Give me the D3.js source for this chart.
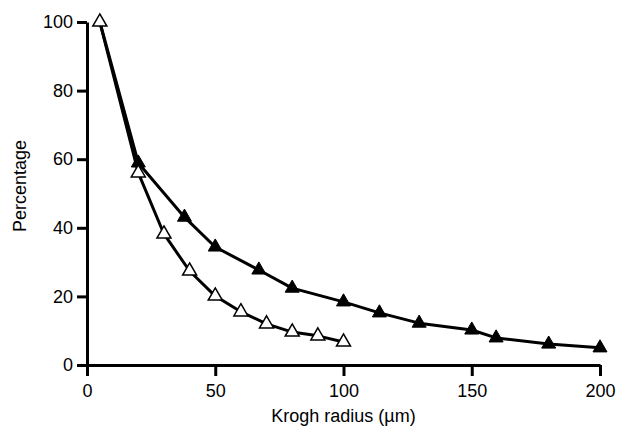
<!DOCTYPE html>
<html>
<head>
<meta charset="utf-8">
<script src="https://cdn.jsdelivr.net/npm/d3@7"></script>
<style>
  body { margin: 0; background: #fff; }
  text { font-family: "Liberation Sans", Arial, sans-serif; fill: #000; }
</style>
</head>
<body>
<div id="chart"></div>
<script>
// open triangles
const openX = [5, 20, 30, 40, 50, 60, 70, 80, 90, 100];
const openY = [100, 56, 38.2, 27.4, 20.1, 15.5, 12, 9.6, 8.5, 6.7];
// filled triangles
const filledX = [5, 20, 38, 50, 67, 80, 100, 114, 129.5, 150, 159.5, 180, 200];
const filledY = [100, 58.9, 43.1, 34.4, 27.7, 22.4, 18.4, 15.2, 12.2, 10.2, 7.9, 6.1, 5.0];

const xTicks = [0, 50, 100, 150, 200];
const yTicks = [0, 20, 40, 60, 80, 100];

const W = 627, H = 428;
const margin = { top: 22, right: 27, bottom: 63, left: 87 },
      width = W - margin.left - margin.right,
      height = H - margin.top - margin.bottom;

const svg = d3.select("#chart").append("svg")
    .attr("width", W)
    .attr("height", H);

const g = svg.append("g")
    .attr("transform", `translate(${margin.left},${margin.top})`);

const x = d3.scaleLinear().domain([0, 200]).range([0, width]);
const y = d3.scaleLinear().domain([0, 100]).range([height, 0]);

const xAxis = g.append("g")
    .attr("transform", `translate(0,${height})`)
    .call(d3.axisBottom(x).tickValues(xTicks).tickSize(11).tickPadding(8).tickSizeOuter(0));
const yAxis = g.append("g")
    .call(d3.axisLeft(y).tickValues(yTicks).tickSize(10).tickPadding(4).tickSizeOuter(0));

[xAxis, yAxis].forEach(a => {
    a.select(".domain").attr("stroke", "#000").attr("stroke-width", 3);
    a.selectAll(".tick line").attr("stroke", "#000").attr("stroke-width", 3);
    a.selectAll(".tick text")
        .style("font-family", '"Liberation Sans", Arial, sans-serif')
        .style("font-size", "18px")
        .attr("fill", "#000");
});

const line = d3.line().x(d => x(d[0])).y(d => y(d[1]));

const openData = openX.map((v, i) => [v, openY[i]]);
const filledData = filledX.map((v, i) => [v, filledY[i]]);

g.append("path").datum(filledData)
    .attr("fill", "none").attr("stroke", "#000").attr("stroke-width", 3)
    .attr("stroke-linejoin", "round").attr("d", line);
g.append("path").datum(openData)
    .attr("fill", "none").attr("stroke", "#000").attr("stroke-width", 3)
    .attr("stroke-linejoin", "round").attr("d", line);

const tri = d3.symbol().type(d3.symbolTriangle).size(85);

g.selectAll(".filled").data(filledData.slice(1)).join("path")
    .attr("class", "filled")
    .attr("transform", d => `translate(${x(d[0])},${y(d[1])})`)
    .attr("d", tri)
    .attr("fill", "#000").attr("stroke", "#000").attr("stroke-width", 1);

g.selectAll(".open").data(openData).join("path")
    .attr("class", "open")
    .attr("transform", d => `translate(${x(d[0])},${y(d[1])})`)
    .attr("d", tri)
    .attr("fill", "#fff").attr("stroke", "#000").attr("stroke-width", 1.5);

svg.append("text")
    .attr("x", margin.left + x(100))
    .attr("y", 422)
    .attr("text-anchor", "middle")
    .style("font-size", "18px")
    .text("Krogh radius (µm)");

svg.append("text")
    .attr("transform", "translate(26,186) rotate(-90)")
    .attr("text-anchor", "middle")
    .style("font-size", "18px")
    .text("Percentage");
</script>
</body>
</html>
